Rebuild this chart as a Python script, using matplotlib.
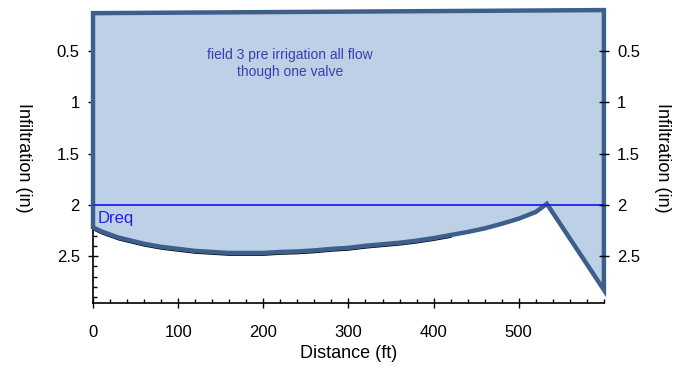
import matplotlib.pyplot as plt
import numpy as np
from matplotlib.patches import Polygon
from matplotlib.ticker import MultipleLocator

plt.rcParams["font.family"] = ["Liberation Sans", "DejaVu Sans"]

# infiltration profile along the field
distance_ft = [0, 10, 20, 30, 40, 60, 80, 100, 120, 140, 160, 180, 200, 220, 240, 260, 280, 300,
               320, 340, 360, 380, 400, 420, 440, 460, 480, 500, 520, 533, 600]
infiltration_in = [2.22, 2.26, 2.29, 2.32, 2.34, 2.38, 2.41, 2.43, 2.45, 2.46, 2.47, 2.47, 2.47,
                   2.46, 2.455, 2.445, 2.43, 2.42, 2.40, 2.385, 2.37, 2.35, 2.325, 2.295, 2.265,
                   2.23, 2.185, 2.135, 2.07, 1.99, 2.83]
top_depth = [0.13, 0.10]
dreq = 2.0
note = "field 3 pre irrigation all flow\nthough one valve"

FILL = "#bdd0e6"
EDGE = "#3d5f8c"
DREQ_C = "#2222e6"

fig = plt.figure(figsize=(6.74, 3.79), dpi=100)
ax = fig.add_axes([0.138, 0.2, 0.758, 0.768])

x = np.array(distance_ft, dtype=float)
y = np.array(infiltration_in, dtype=float)

# black shadow beneath the curve
mask = x <= 420
ax.plot(x[mask], y[mask] + 0.02, color="black", lw=1.2, zorder=1)

poly_x = np.concatenate(([x[0], x[-1]], x[::-1]))
poly_y = np.concatenate(([top_depth[0], top_depth[1]], y[::-1]))
patch = Polygon(np.column_stack([poly_x, poly_y]), closed=True, facecolor=FILL, edgecolor=EDGE,
                lw=3.2, joinstyle="miter", zorder=3, clip_on=False)
ax.add_patch(patch)

ax.plot([0, 600], [dreq, dreq], color=DREQ_C, lw=1.3, zorder=4)
ax.text(5, 2.06, "Dreq", color=DREQ_C, fontsize=12, va="top", ha="left", zorder=5)
ax.text(231, 0.62, note, color="#3c3cb0", fontsize=10, ha="center", va="center",
        linespacing=1.25, zorder=5)

ax.set_xlim(0, 600)
ax.set_ylim(2.96, 0.12)

ax.xaxis.set_minor_locator(MultipleLocator(20))
ax.set_xticks([0, 100, 200, 300, 400, 500])
ax.yaxis.set_minor_locator(MultipleLocator(0.1))
ax.set_yticks([0.5, 1, 1.5, 2, 2.5])
ax.set_yticklabels(["0.5", "1", "1.5", "2", "2.5"])

ax.tick_params(which="major", direction="inout", length=7, width=1, labelsize=12, pad=6)
ax.tick_params(which="minor", direction="in", length=3, width=1)
ax.tick_params(axis="x", which="major", pad=12)

for s in ["top", "right"]:
    ax.spines[s].set_visible(False)
for s in ["left", "bottom"]:
    ax.spines[s].set_linewidth(1.2)
    ax.spines[s].set_zorder(2)

ax.set_xlabel("Distance (ft)", fontsize=13, labelpad=4)
ax.set_ylabel("Infiltration (in)", fontsize=13, rotation=-90, labelpad=30)

ax2 = ax.twinx()
ax2.set_ylim(ax.get_ylim())
ax2.set_yticks([0.5, 1, 1.5, 2, 2.5])
ax2.set_yticklabels(["0.5", "1", "1.5", "2", "2.5"])
ax2.tick_params(which="major", direction="inout", length=7, width=1, labelsize=12, pad=6)
for s in ax2.spines.values():
    s.set_visible(False)
ax2.set_ylabel("Infiltration (in)", fontsize=13, rotation=-90, labelpad=22)

fig.savefig("out.png", dpi=100)
